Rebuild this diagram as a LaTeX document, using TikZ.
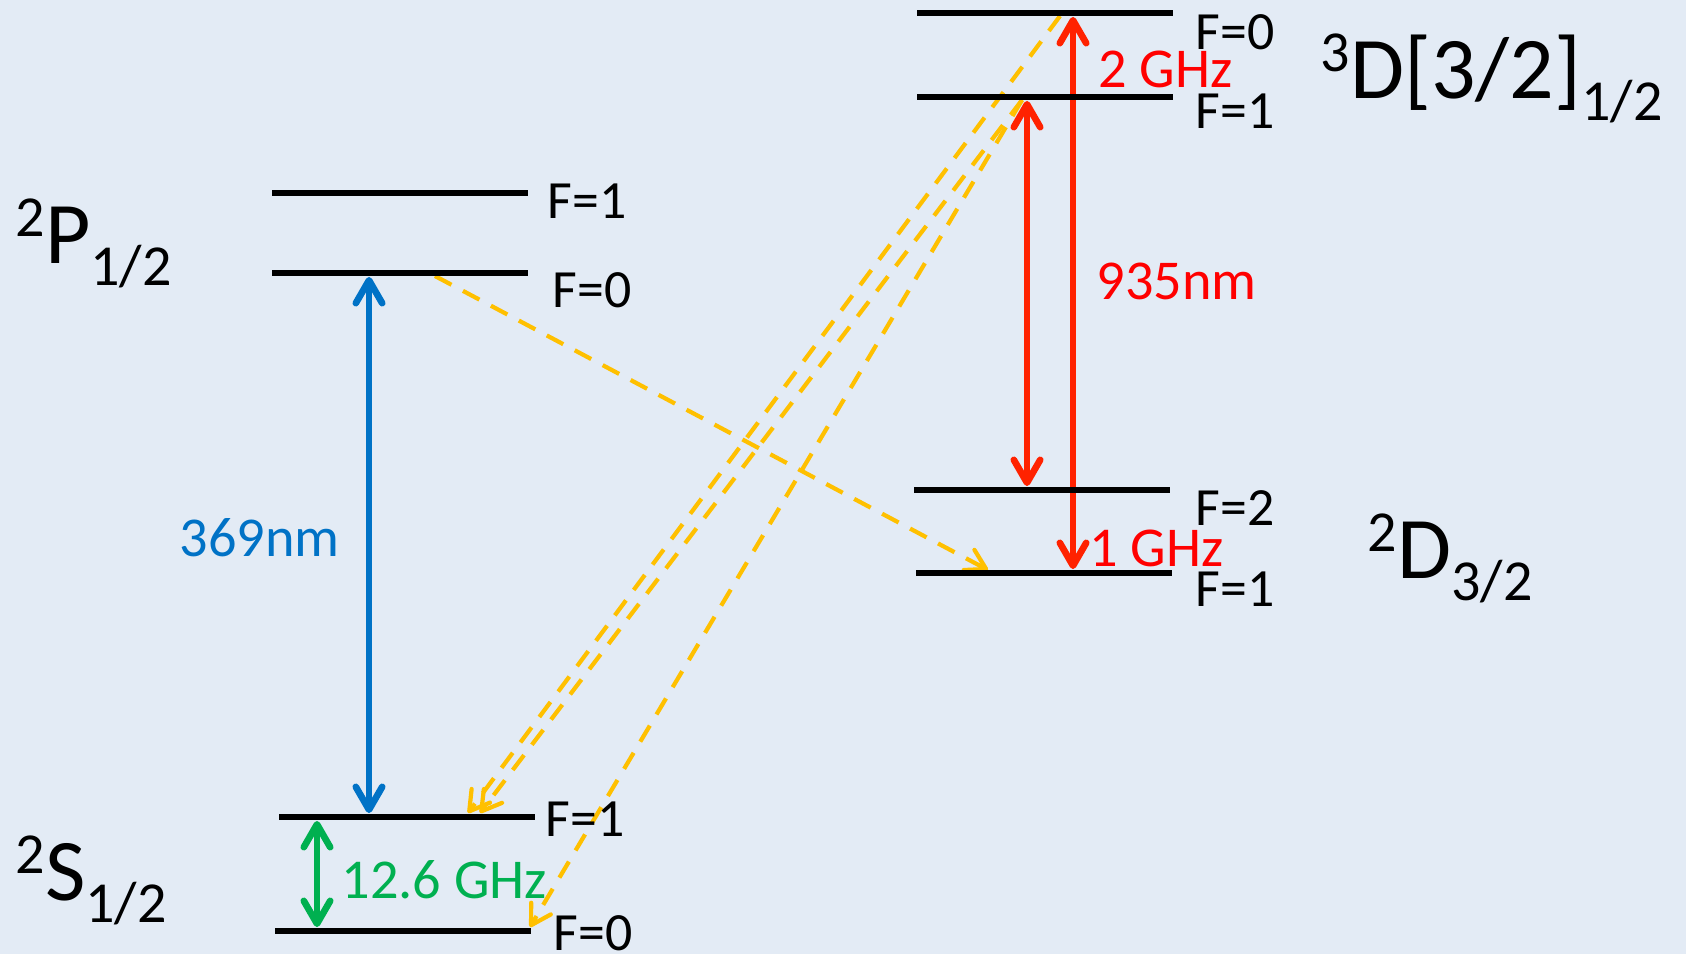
\documentclass[tikz,border=0pt]{standalone}
\usepackage{fontspec}
\setmainfont{Carlito}
\definecolor{ybBlue}{RGB}{0,114,198}
\definecolor{ybGreen}{RGB}{0,176,80}
\definecolor{ybRed}{RGB}{255,34,0}
\definecolor{ybRedText}{RGB}{255,0,0}
\definecolor{ybYellow}{RGB}{255,192,0}
\definecolor{ybBack}{RGB}{227,235,245}
\usetikzlibrary{arrows.meta, calc, backgrounds}

\newcommand{\term}[3]{\raisebox{7.5pt}{\fontsize{16.5}{17}\selectfont #1}#2\raisebox{-6.5pt}{\fontsize{16.5}{17}\selectfont #3}}

\begin{document}
\begin{tikzpicture}[x=0.01cm, y=-0.01cm,
    level/.style={fill=black, inner sep=0, minimum width=2.56cm, minimum height=0.065cm},
    flabel/.style={font=\fontsize{15.3}{16}\selectfont, inner sep=0, anchor=base west},
    tlabel/.style={font=\fontsize{16}{17}\selectfont, inner sep=0, anchor=base west},
    term/.style={font=\fontsize{25}{27}\selectfont, inner sep=0, anchor=base west},
    pump/.style={line width=1.9pt, <->, >={Straight Barb[length=6.5pt, width=7.5pt, round]}},
    decay/.style={ybYellow, line width=1.2pt, dash pattern=on 5.3pt off 3.7pt, ->, >={Straight Barb[length=5.5pt, width=6.5pt, round]}}]
    \useasboundingbox (0,0) rectangle (1686,954);

    % Levels
    \node[level] (P1) at (400,193) {};
    \node[level] (P0) at (400,273) {};
    \node[level] (S1) at (407,817) {};
    \node[level] (S0) at (403,931) {};
    \node[level] (T0) at (1045,13) {};
    \node[level] (T1) at (1045,97) {};
    \node[level] (D2) at (1042,490) {};
    \node[level] (D1) at (1044,573) {};

    % Hyperfine labels
    \node[flabel] (lP1) at (547,218) {F=1};
    \node[flabel] (lP0) at (552,307) {F=0};
    \node[flabel] (lS1) at (545,836) {F=1};
    \node[flabel] (lS0) at (553,950) {F=0};
    \node[flabel] (lT0) at (1195,49) {F=0};
    \node[flabel] (lT1) at (1195,128) {F=1};
    \node[flabel] (lD2) at (1195,525) {F=2};
    \node[flabel] (lD1) at (1195,606) {F=1};

    % Terms
    \node[term] (tP) at (15,263) {\term{2}{P}{1/2}};
    \node[term] (tS) at (15,900) {\term{2}{S}{1/2}};
    \node[term] (tT) at (1320,98) {\term{3}{D[3/2]}{1/2}};
    \node[term] (tD) at (1367,578) {\term{2}{D}{3/2}};

    % Transition labels
    \node[tlabel, text=ybBlue] (l369) at (179,556) {369nm};
    \node[tlabel, text=ybGreen] (l126) at (341,898) {12.6 GHz};
    \node[tlabel, text=ybRedText] (l935) at (1096,299) {935nm};
    \node[tlabel, text=ybRedText] (l2G) at (1098,87) {2 GHz};
    \node[tlabel, text=ybRedText] (l1G) at (1089,566) {1 GHz};

    % Arrow positions
    \coordinate (xBlue) at (369,0);
    \coordinate (xGreen) at (317,0);
    \coordinate (xRedA) at (1027,0);
    \coordinate (xRedB) at (1073,0);
    \coordinate (dP0) at (435,276);
    \coordinate (dD1) at (988,570);
    \coordinate (dT0) at (1060,16);
    \coordinate (dT1) at (1022,100);
    \coordinate (dS1a) at (468,813);
    \coordinate (dS1b) at (480,813);
    \coordinate (dS0) at (530,927);

    \begin{pgfonlayer}{background}
        \fill[ybBack] (0,0) rectangle (1686,954);
        % Pumping
        \draw[pump, ybBlue] (P0.south -| xBlue) -- (S1.north -| xBlue);
        \draw[pump, ybGreen] (S1.south -| xGreen) -- (S0.north -| xGreen);
        \draw[pump, ybRed] (T1.south -| xRedA) -- (D2.north -| xRedA);
        \draw[pump, ybRed] (T0.south -| xRedB) -- (D1.north -| xRedB);
        % Decays
        \draw[decay] (dP0) -- (dD1);
        \draw[decay] (dT0) -- (dS1a);
        \draw[decay] (dT1) -- (dS1b);
        \draw[decay] (dT1) -- (dS0);
    \end{pgfonlayer}
\end{tikzpicture}
\end{document}
